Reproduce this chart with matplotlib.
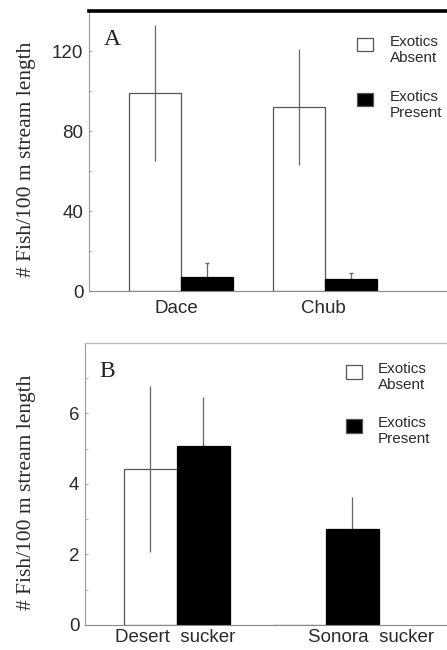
import numpy as np
import matplotlib.pyplot as plt
from matplotlib.patches import Rectangle

# panel A data
species_a = ['Dace', 'Chub']
absent_a = [99, 92]
absent_a_err = [34, 29]
present_a = [7.3, 6]
present_a_err = [7, 3]

# panel B data
species_b = ['Desert  sucker', 'Sonora  sucker']
absent_b = [4.42, 0]
absent_b_err = [2.35, 0]
present_b = [5.08, 2.72]
present_b_err = [1.4, 0.9]

SERIF = 'Liberation Serif'
SANS = 'Liberation Sans'
TXT = '#2a2a2a'

fig = plt.figure(figsize=(4.47, 6.5), dpi=100)
axA = fig.add_axes([0.199, 0.552, 0.801, 0.431])
axB = fig.add_axes([0.190, 0.0385, 0.810, 0.4338])

def draw_panel(ax, names, absent, absent_err, present, present_err, width,
               ylim, major, minor, letter, cap, tick_pos, label_x, xpad):
  x = np.arange(len(names))
  ax.bar(x - width / 2, absent, width, color='white', edgecolor='#555555',
         linewidth=0.9, zorder=2)
  ax.bar(x + width / 2, present, width, color='black', edgecolor='black',
         linewidth=0.9, zorder=2)
  for xi, v, e in zip(x, absent, absent_err):
    if v > 0:
      ax.errorbar(xi - width / 2, v, yerr=e, fmt='none', ecolor='#666666',
                  elinewidth=0.9, capsize=0, zorder=3)
  ax.errorbar(x + width / 2, present, yerr=present_err, fmt='none',
              ecolor='#666666', elinewidth=0.9, capsize=cap, zorder=1)
  ax.set_ylim(*ylim)
  ax.set_yticks(major)
  ax.set_yticks(minor, minor=True)
  ax.set_yticklabels([str(v) for v in major], fontfamily=SANS, fontsize=13.5,
                     color=TXT)
  ax.set_xticks(tick_pos)
  ax.set_xticklabels(names, fontfamily=SANS, fontsize=13.5, color=TXT)
  ax.tick_params(axis='x', length=0, pad=xpad)
  ax.tick_params(axis='y', which='both', direction='in', length=2,
                 color='#aaaaaa', pad=4)
  ax.spines['right'].set_visible(False)
  ax.spines['left'].set_color('#999999')
  ax.spines['bottom'].set_color('#888888')
  ax.set_ylabel('# Fish/100 m stream length', fontfamily=SERIF, fontsize=15.5,
                color=TXT)
  ax.yaxis.set_label_coords(label_x, 0.47)
  ax.text(0.04, 0.935, letter, transform=ax.transAxes, fontfamily=SERIF,
          fontsize=17, color='#222222', va='top', ha='left')

draw_panel(axA, species_a, absent_a, absent_a_err, present_a, present_a_err,
           0.36, (0, 140), [0, 40, 80, 120], [20, 60, 100], 'A', 1.5,
           [-0.03, 0.99], -0.148, 6)
axA.set_xlim(-0.639, 1.847)
axA.spines['top'].set_linewidth(2.6)
axA.spines['top'].set_color('black')

draw_panel(axB, species_b, absent_b, absent_b_err, present_b, present_b_err,
           0.356, (0, 8), [0, 2, 4, 6], [1, 3, 5, 7], 'B', 0, [-0.01, 1.3],
           -0.135, 3)
axB.set_xlim(-0.617, 1.812)
axB.spines['top'].set_linewidth(0.9)
axB.spines['top'].set_color('#bbbbbb')

# legends drawn as squares + text in axes coordinates
def draw_key(ax, x0, y_top, sq_w, sq_h, gap, text_dx):
  for i, (fc, lab) in enumerate([('white', 'Exotics\nAbsent'),
                                 ('black', 'Exotics\nPresent')]):
    yt = y_top - i * gap
    ax.add_patch(Rectangle((x0, yt - sq_h), sq_w, sq_h, transform=ax.transAxes,
                           facecolor=fc, edgecolor='#555555', linewidth=0.9,
                           clip_on=False))
    ax.text(x0 + text_dx, yt + 0.01, lab, transform=ax.transAxes,
            fontfamily=SANS, fontsize=11, color=TXT, va='top', ha='left',
            linespacing=1.15)

draw_key(axA, 0.749, 0.904, 16 / 358, 13 / 280, 55 / 280, 33 / 358)
draw_key(axB, 0.721, 0.922, 16 / 362, 14 / 282, 54 / 282, 32 / 362)

plt.savefig('out.png', dpi=100)
